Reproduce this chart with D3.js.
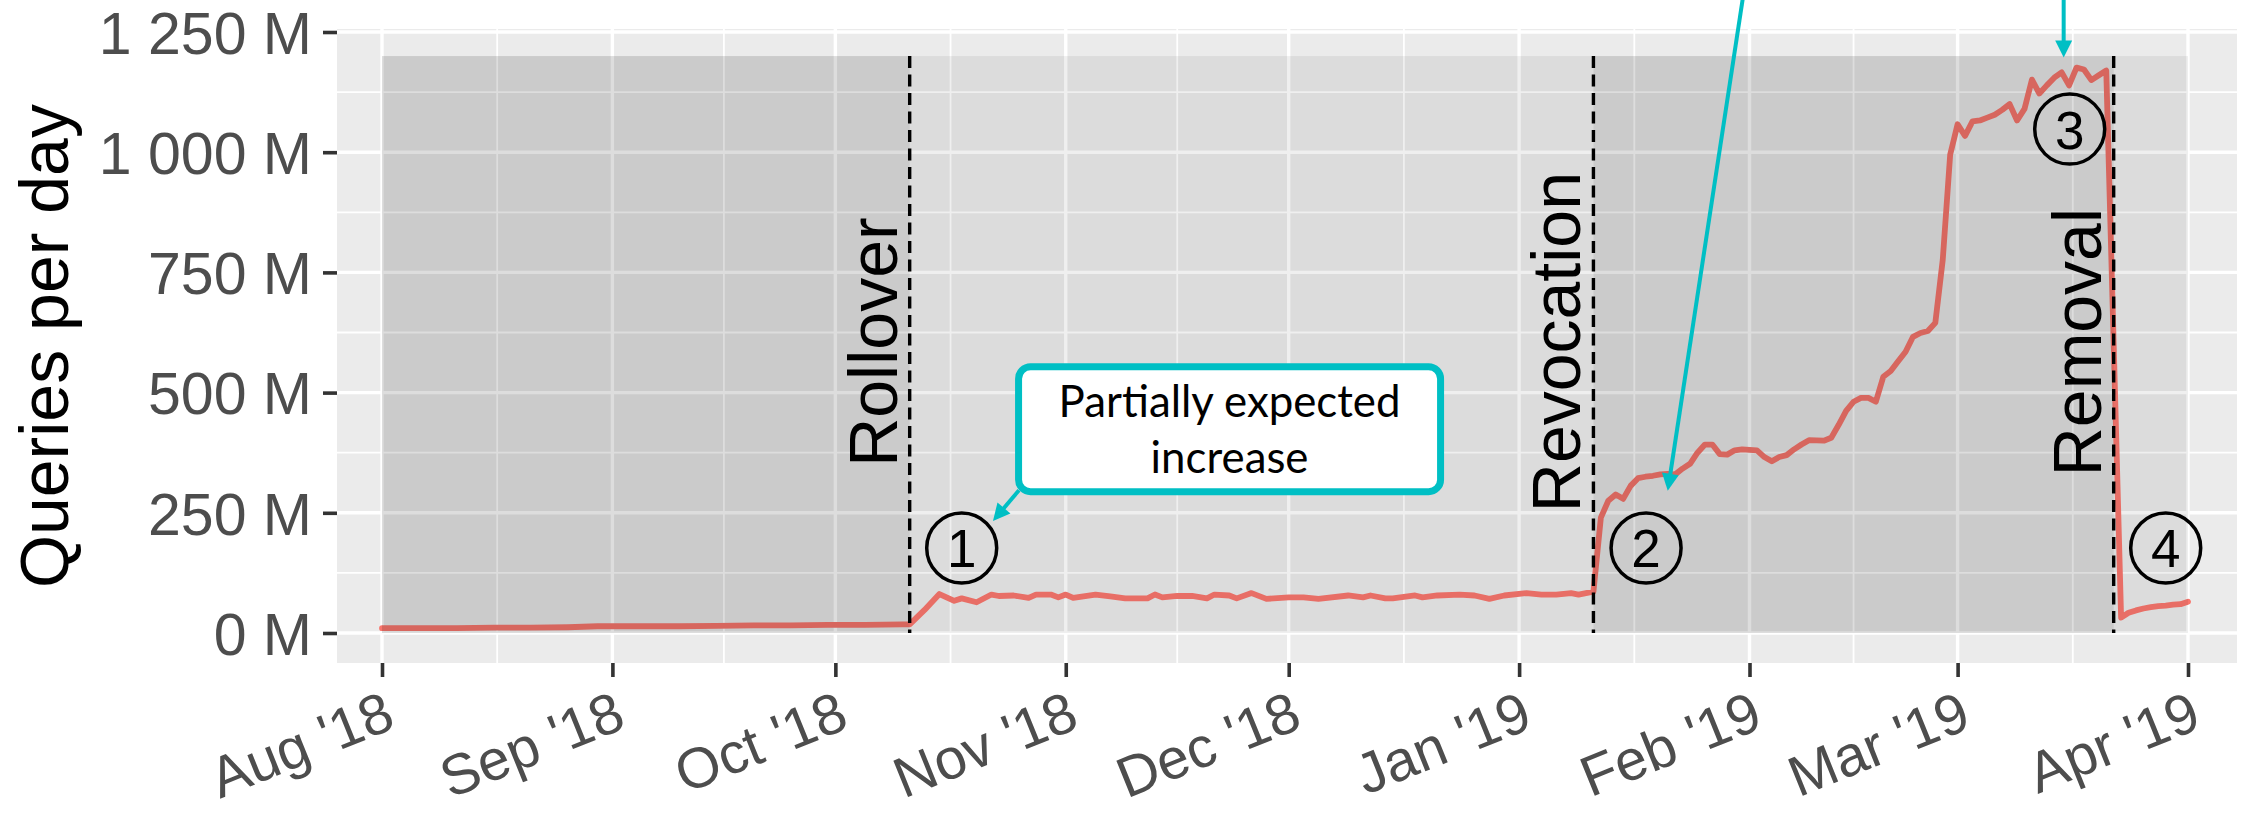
<!DOCTYPE html>
<html><head><meta charset="utf-8">
<script src="https://cdn.jsdelivr.net/npm/d3@7"></script>
<style>
html,body{margin:0;padding:0;background:#fff;}
svg{display:block;}
</style></head><body>
<svg id="chart" width="2244" height="813"></svg>
<script>
// ---------------- data ----------------
const dates = [
"2018-08-01","2018-08-06","2018-08-11","2018-08-16","2018-08-21","2018-08-26","2018-08-30",
"2018-09-05","2018-09-10","2018-09-15","2018-09-20","2018-09-25","2018-09-30",
"2018-10-05","2018-10-10","2018-10-11",
"2018-10-13","2018-10-15","2018-10-17","2018-10-18","2018-10-20","2018-10-22","2018-10-23","2018-10-25",
"2018-10-27","2018-10-28","2018-10-30","2018-10-31","2018-11-01","2018-11-02","2018-11-05","2018-11-07",
"2018-11-09","2018-11-12","2018-11-13","2018-11-14","2018-11-16","2018-11-18","2018-11-20","2018-11-21",
"2018-11-23","2018-11-24","2018-11-26","2018-11-28","2018-12-01","2018-12-03","2018-12-05","2018-12-09",
"2018-12-11","2018-12-12","2018-12-14","2018-12-15","2018-12-18","2018-12-19","2018-12-21","2018-12-24",
"2018-12-26","2018-12-28","2018-12-30","2019-01-02","2019-01-04","2019-01-06","2019-01-08","2019-01-09",
"2019-01-11",
"2019-01-12","2019-01-13","2019-01-14","2019-01-15","2019-01-16","2019-01-17","2019-01-18","2019-01-19",
"2019-01-20","2019-01-21","2019-01-22","2019-01-23","2019-01-24","2019-01-25","2019-01-26","2019-01-27",
"2019-01-28","2019-01-29","2019-01-30","2019-01-31","2019-02-02","2019-02-03","2019-02-04","2019-02-05",
"2019-02-06","2019-02-07","2019-02-08","2019-02-09","2019-02-11","2019-02-12","2019-02-13","2019-02-14",
"2019-02-15","2019-02-16","2019-02-17","2019-02-18","2019-02-19","2019-02-20","2019-02-21","2019-02-22",
"2019-02-23","2019-02-24","2019-02-25","2019-02-26","2019-02-27","2019-02-28","2019-03-01","2019-03-02",
"2019-03-03","2019-03-04","2019-03-05","2019-03-06","2019-03-07","2019-03-08","2019-03-09","2019-03-10",
"2019-03-11","2019-03-12","2019-03-13","2019-03-14","2019-03-15","2019-03-16","2019-03-17","2019-03-18",
"2019-03-19","2019-03-20","2019-03-21",
"2019-03-23","2019-03-24","2019-03-25","2019-03-26","2019-03-27","2019-03-28","2019-03-29","2019-03-30",
"2019-03-31","2019-04-01"
];
const queriesM = [
10,10,10,11,11,12,14,
14,14,15,16,16,17,
17,18,18,
48,81,67,72,64,80,77,78,
73,80,80,74,80,73,80,76,
72,72,80,74,77,77,72,80,
78,72,83,71,74,74,71,78,
74,78,72,72,78,74,78,80,
78,71,78,83,80,80,83,80,
86,
240,275,288,279,306,322,325,327,
330,331,330,342,352,375,392,392,
372,371,380,382,380,366,357,366,
370,382,392,401,400,406,433,462,
481,489,489,481,533,545,565,585,
616,624,628,645,776,995,1058,1034,
1064,1066,1072,1078,1088,1100,1066,1090,
1151,1122,1139,1155,1166,1139,1176,1172,
1150,1160,1170,
32,42,47,51,54,56,57,59,
60,65
];

const tickDates  = ["2018-08-01","2018-09-01","2018-10-01","2018-11-01","2018-12-01","2019-01-01","2019-02-01","2019-03-01","2019-04-01"];
const tickLabels = ["Aug '18","Sep '18","Oct '18","Nov '18","Dec '18","Jan '19","Feb '19","Mar '19","Apr '19"];
const yTicks      = [0,250,500,750,1000,1250];
const yTickLabels = ["0 M","250 M","500 M","750 M","1 000 M","1 250 M"];

const eventDates  = ["2018-10-11","2019-01-11","2019-03-22"];
const eventLabels = ["Rollover","Revocation","Removal"];
const phaseStart  = ["2018-08-01","2018-10-11","2019-01-11","2019-03-22"];
const phaseEnd    = ["2018-10-11","2019-01-11","2019-03-22","2019-04-01"];
const phaseDark   = [true,false,true,false];
const shadeTop    = 1200;
const eventLabelValue = 605;

const markerNums   = ["1","2","3","4"];
const markerDates  = ["2018-10-18 00:00","2019-01-18 02:00","2019-03-16 02:00","2019-03-29 00:00"];
const markerValues = [177,177,1048,177];

// arrows: start and tip positions
const arrowStartDates = ["2018-10-25 17:00","2019-02-01 07:00","2019-03-15 06:30"];
const arrowStartVals  = [297,1441,1441];
const arrowTipDates   = ["2018-10-22 05:00","2019-01-21 00:00","2019-03-15 06:30"];
const arrowTipVals    = [233,296,1197];

const boxDate  = "2018-11-23 01:00";
const boxValue = 424;
const boxLines = ["Partially expected","increase"];

// ---------------- chart ----------------
const parseD = d3.timeParse("%Y-%m-%d");
const parseT = d3.timeParse("%Y-%m-%d %H:%M");
const series = dates.map((d,i)=>({date:parseD(d), v:queriesM[i]}));

const panel = {left:337, right:2237, top:29, bottom:663};
const x = d3.scaleTime().domain([parseD("2018-08-01"), parseD("2019-04-01")]).range([382, 2188]);
const y = d3.scaleLinear().domain([0,1250]).range([633, 32]);

const teal = "#00BFC4";
const svg = d3.select("#chart");
const FONT = "'Liberation Sans', Arial, Helvetica, sans-serif";

// panel background
svg.append("rect").attr("x",panel.left).attr("y",panel.top)
  .attr("width",panel.right-panel.left).attr("height",panel.bottom-panel.top)
  .attr("fill","#EBEBEB");

const grid = svg.append("g");
const tDates = tickDates.map(parseD);
const minorX = d3.pairs(tDates).map(([a,b])=>new Date((+a + +b)/2));
const minorY = d3.pairs(yTicks).map(([a,b])=>(a+b)/2);
grid.selectAll(".mx").data(minorX).join("line")
  .attr("x1",d=>x(d)).attr("x2",d=>x(d)).attr("y1",panel.top).attr("y2",panel.bottom)
  .attr("stroke","#fff").attr("stroke-width",1.8);
grid.selectAll(".my").data(minorY).join("line")
  .attr("y1",d=>y(d)).attr("y2",d=>y(d)).attr("x1",panel.left).attr("x2",panel.right)
  .attr("stroke","#fff").attr("stroke-width",1.8);
grid.selectAll(".Mx").data(tDates).join("line")
  .attr("x1",d=>x(d)).attr("x2",d=>x(d)).attr("y1",panel.top).attr("y2",panel.bottom)
  .attr("stroke","#fff").attr("stroke-width",3.4);
grid.selectAll(".My").data(yTicks).join("line")
  .attr("y1",d=>y(d)).attr("y2",d=>y(d)).attr("x1",panel.left).attr("x2",panel.right)
  .attr("stroke","#fff").attr("stroke-width",3.4);

// data line
svg.append("path").datum(series)
  .attr("d", d3.line().x(d=>x(d.date)).y(d=>y(d.v)))
  .attr("fill","none").attr("stroke","#F8766D").attr("stroke-width",5.8)
  .attr("stroke-linejoin","round").attr("stroke-linecap","round");

// phase shading (drawn above line, semi-transparent)
svg.append("g").selectAll("rect").data(phaseStart).join("rect")
  .attr("x",(d)=>x(parseD(d)))
  .attr("width",(d,i)=>x(parseD(phaseEnd[i]))-x(parseD(d)))
  .attr("y",y(shadeTop)).attr("height",y(0)-y(shadeTop))
  .attr("fill","#000").attr("fill-opacity",(d,i)=>phaseDark[i]?0.132:0.064);

// event dashed lines and labels
const ev = svg.append("g");
ev.selectAll("line").data(eventDates).join("line")
  .attr("x1",d=>x(parseD(d))).attr("x2",d=>x(parseD(d)))
  .attr("y1",y(shadeTop)).attr("y2",y(0))
  .attr("stroke","#000").attr("stroke-width",3.4).attr("stroke-dasharray","12 6.5");
ev.selectAll("text").data(eventDates).join("text")
  .attr("transform",d=>`translate(${x(parseD(d))-13},${y(eventLabelValue)}) rotate(-90)`)
  .attr("text-anchor","middle").attr("font-family",FONT).attr("font-size",68)
  .attr("fill","#000").text((d,i)=>eventLabels[i]);

// axes
const yAxis = svg.append("g").attr("transform",`translate(${panel.left},0)`)
  .call(d3.axisLeft(y).tickValues(yTicks).tickFormat((d,i)=>yTickLabels[i]).tickSize(14).tickPadding(11));
yAxis.select(".domain").remove();
yAxis.selectAll(".tick line").attr("stroke","#333").attr("stroke-width",3.6);
yAxis.selectAll(".tick text").attr("font-family",FONT).attr("font-size",59).attr("fill","#4D4D4D").attr("dy","0.36em");

const xAxis = svg.append("g").attr("transform",`translate(0,${panel.bottom})`)
  .call(d3.axisBottom(x).tickValues(tDates).tickFormat((d,i)=>tickLabels[i]).tickSize(14));
xAxis.select(".domain").remove();
xAxis.selectAll(".tick line").attr("stroke","#333").attr("stroke-width",3.6);
xAxis.selectAll(".tick text").attr("font-family",FONT).attr("font-size",57).attr("fill","#4D4D4D")
  .attr("x",0).attr("y",0).attr("dy",0).attr("text-anchor","end")
  .attr("transform","translate(15,64) rotate(-22)");

// y axis title
svg.append("text").attr("transform",`translate(68,${(panel.top+panel.bottom)/2}) rotate(-90)`)
  .attr("text-anchor","middle").attr("font-family",FONT).attr("font-size",68).attr("fill","#000")
  .text("Queries per day");

// circled numbers
const mk = svg.append("g");
markerNums.forEach((n,i)=>{
  const cx = x(parseT(markerDates[i])), cy = y(markerValues[i]);
  mk.append("circle").attr("cx",cx).attr("cy",cy).attr("r",35)
    .attr("fill","none").attr("stroke","#000").attr("stroke-width",3.5);
  mk.append("text").attr("x",cx).attr("y",cy+19.5).attr("text-anchor","middle")
    .attr("font-family",FONT).attr("font-size",53).attr("fill","#000").text(n);
});

// annotation box
const bx = x(parseT(boxDate)), by = y(boxValue);
const boxW = 422, boxH = 125;
svg.append("rect").attr("x",bx-boxW/2).attr("y",by-boxH/2).attr("width",boxW).attr("height",boxH)
  .attr("rx",12).attr("ry",12).attr("fill","#fff").attr("stroke",teal).attr("stroke-width",7);
const bt = svg.append("g").attr("font-family","Lato, 'Open Sans', sans-serif").attr("fill","#000");
const l1 = bt.append("text").attr("x",bx).attr("y",by-12).attr("text-anchor","middle").attr("font-size",44).text(boxLines[0]);
const w1 = l1.node().getComputedTextLength();
const fs = 44*342/w1;
l1.attr("font-size",fs);
bt.append("text").attr("x",bx).attr("y",by+44).attr("text-anchor","middle").attr("font-size",fs).text(boxLines[1]);

// arrows
const ar = svg.append("g");
arrowStartDates.forEach((s,i)=>{
  const x1 = x(parseT(s)), y1 = y(arrowStartVals[i]);
  const x2 = x(parseT(arrowTipDates[i])), y2 = y(arrowTipVals[i]);
  const dx = x2-x1, dy = y2-y1, L = Math.hypot(dx,dy), ux = dx/L, uy = dy/L;
  const hl = 17, hw = 8.5;
  const bxp = x2-ux*hl, byp = y2-uy*hl;
  ar.append("line").attr("x1",x1).attr("y1",y1).attr("x2",bxp+ux*1).attr("y2",byp+uy*1)
    .attr("stroke",teal).attr("stroke-width",4);
  ar.append("path").attr("d",`M${x2},${y2}L${bxp-uy*hw},${byp+ux*hw}L${bxp+uy*hw},${byp-ux*hw}Z`)
    .attr("fill",teal);
});
</script>
</body></html>
